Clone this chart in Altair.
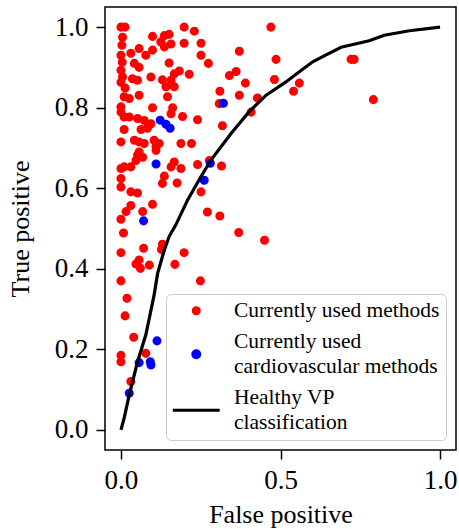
import altair as alt
import pandas as pd

# ---- data ----
red_x = [0.000, 0.013, 0.005, 0.198, 0.230, 0.099, 0.151, 0.136, 0.125, 0.157,
         0.198, 0.251, 0.057, 0.099, 0.078, 0.136, 0.251, 0.274, 0.151, 0.000,
         0.031, 0.042, 0.057, 0.000, 0.005, 0.094, 0.130, 0.167, 0.183, 0.214,
         0.036, 0.052, 0.000, 0.157, 0.003, 0.004, 0.141, 0.167, 0.146, 0.010,
         0.026, 0.057, 0.000, 0.000, 0.099, 0.162, 0.157, 0.193, 0.240, 0.010,
         0.026, 0.052, 0.073, 0.094, 0.083, 0.010, 0.063, 0.000, 0.042, 0.057,
         0.073, 0.104, 0.120, 0.110, 0.188, 0.221, 0.057, 0.013, 0.052, 0.068,
         0.047, 0.031, 0.010, 0.000, 0.110, 0.167, 0.188, 0.157, 0.240, 0.000,
         0.000, 0.136, 0.130, 0.176, 0.031, 0.052, 0.251, 0.099, 0.031, 0.016,
         0.000, 0.068, 0.271, 0.310, 0.277, 0.315, 0.369, 0.450, 0.008, 0.000,
         0.071, 0.130, 0.127, 0.198, 0.057, 0.047, 0.061, 0.089, 0.169, 0.000,
         0.249, 0.019, 0.013, 0.040, 0.000, 0.000, 0.078, 0.031, 0.470, 0.371,
         0.486, 0.340, 0.361, 0.390, 0.481, 0.310, 0.559, 0.541, 0.371, 0.428,
         0.408, 0.308, 0.318, 0.721, 0.731, 0.791]
red_y = [1.000, 1.000, 0.975, 1.000, 0.990, 0.977, 0.982, 0.979, 0.963, 0.958,
         0.960, 0.960, 0.947, 0.943, 0.930, 0.951, 0.930, 0.910, 0.911, 0.930,
         0.935, 0.910, 0.900, 0.893, 0.876, 0.876, 0.869, 0.884, 0.891, 0.883,
         0.872, 0.868, 0.863, 0.868, 0.955, 0.913, 0.852, 0.852, 0.827, 0.827,
         0.823, 0.831, 0.802, 0.789, 0.800, 0.800, 0.785, 0.778, 0.770, 0.777,
         0.777, 0.773, 0.768, 0.760, 0.749, 0.746, 0.746, 0.715, 0.719, 0.715,
         0.711, 0.719, 0.711, 0.703, 0.711, 0.711, 0.690, 0.849, 0.682, 0.677,
         0.669, 0.653, 0.653, 0.649, 0.694, 0.665, 0.649, 0.653, 0.659, 0.624,
         0.603, 0.630, 0.612, 0.613, 0.591, 0.588, 0.591, 0.560, 0.557, 0.542,
         0.523, 0.542, 0.541, 0.531, 0.669, 0.655, 0.490, 0.471, 0.489, 0.440,
         0.451, 0.461, 0.448, 0.440, 0.422, 0.412, 0.401, 0.409, 0.411, 0.370,
         0.370, 0.327, 0.283, 0.230, 0.185, 0.169, 0.190, 0.120, 1.000, 0.940,
         0.920, 0.880, 0.890, 0.861, 0.870, 0.841, 0.861, 0.841, 0.831, 0.824,
         0.789, 0.810, 0.755, 0.920, 0.920, 0.820]

blue_x = [0.321, 0.123, 0.141, 0.154, 0.110, 0.280, 0.261, 0.071, 0.113, 0.057,
          0.092, 0.094, 0.026]
blue_y = [0.811, 0.769, 0.759, 0.749, 0.660, 0.662, 0.620, 0.519, 0.221, 0.167,
          0.169, 0.161, 0.091]

line_x = [0.000, 0.010, 0.026, 0.052, 0.078, 0.104, 0.115, 0.136, 0.151, 0.172,
          0.209, 0.251, 0.282, 0.345, 0.402, 0.455, 0.517, 0.559, 0.601, 0.643,
          0.690, 0.778, 0.825, 0.904, 1.000]
line_y = [0.000, 0.029, 0.087, 0.169, 0.236, 0.335, 0.389, 0.447, 0.480, 0.509,
          0.571, 0.629, 0.670, 0.736, 0.790, 0.831, 0.864, 0.889, 0.914, 0.931,
          0.950, 0.966, 0.980, 0.991, 1.000]

L1 = "Currently used methods"
L2 = "Currently used|cardiovascular methods"
L3 = "Healthy VP|classification"
series_domain = [L1, L2, L3]
series_colors = ["#ff0000", "#0000ff", "#000000"]
x_ticks = [0.0, 0.5, 1.0]
y_ticks = [0.0, 0.2, 0.4, 0.6, 0.8, 1.0]

# legend glyphs (unit square paths); two-line entries are centred between lines
legend_shapes = [
    "circle",
    "M-1.128,3.54A1.128,1.128,0,1,1,1.128,3.54A1.128,1.128,0,1,1,-1.128,3.54Z",
    "M-6.63,3.54L6.63,3.54",
]

pts = pd.DataFrame({
    "x": red_x + blue_x,
    "y": red_y + blue_y,
    "series": [L1] * len(red_x) + [L2] * len(blue_x),
})
curve = pd.DataFrame({"x": line_x, "y": line_y, "series": [L3] * len(line_x)})

FONT = "Liberation Serif"

legend = alt.Legend(
    title=None, orient="bottom-right", offset=10,
    labelExpr="split(datum.label, '|')",
    labelFont=FONT, labelFontSize=21.5, labelColor="black",
    symbolSize=50, symbolOffset=13.5, labelOffset=27,
    padding=6, rowPadding=8,
    strokeColor="#cccccc", fillColor="white", cornerRadius=5,
    labelLimit=400,
)

xs = alt.Scale(domain=[-0.05, 1.05], nice=False, zero=False)
ys = alt.Scale(domain=[-0.05, 1.05], nice=False, zero=False)
x_enc = alt.X("x:Q", scale=xs, title="False positive",
              axis=alt.Axis(values=x_ticks, format=".1f"))
y_enc = alt.Y("y:Q", scale=ys, title="True positive",
              axis=alt.Axis(values=y_ticks, format=".1f"))

fill_enc = alt.Fill("series:N", scale=alt.Scale(domain=series_domain, range=series_colors), legend=legend)
stroke_enc = alt.Stroke("series:N", scale=alt.Scale(domain=series_domain, range=series_colors), legend=legend)
shape_enc = alt.Shape("series:N", scale=alt.Scale(domain=series_domain, range=legend_shapes), legend=legend)
sw_enc = alt.StrokeWidth("series:N", scale=alt.Scale(type="ordinal", domain=series_domain, range=[2, 2, 3.2]), legend=legend)

points = alt.Chart(pts).mark_point(filled=True, opacity=1, size=50, shape="circle").encode(
    x=x_enc, y=y_enc, fill=fill_enc, stroke=stroke_enc, strokeWidth=sw_enc,
)
# legend-only layer (draws nothing): carries the legend glyph shapes
legend_layer = alt.Chart(pts).transform_filter("false").mark_point(filled=True, opacity=1, size=50).encode(
    x=x_enc, y=y_enc, fill=fill_enc, stroke=stroke_enc, shape=shape_enc, strokeWidth=sw_enc,
)
line = alt.Chart(curve).mark_line().encode(
    x=x_enc, y=y_enc, stroke=stroke_enc, strokeWidth=sw_enc,
)

chart = alt.layer(points, line, legend_layer).properties(
    width=351, height=443,
    autosize=alt.AutoSizeParams(type="none"),
    padding={"left": 105, "top": 7, "right": 3, "bottom": 79},
    background="white",
).configure(
    style={"guide-label": {"lineHeight": 25}},
).configure_axis(
    labelFont=FONT, titleFont=FONT, labelFontSize=27, titleFontSize=26,
    titleFontWeight="normal", labelColor="black", titleColor="black",
    tickColor="black", tickSize=9, tickWidth=1.5, grid=False, domain=False,
    labelPadding=8, labelFlush=False,
).configure_axisY(titlePadding=21).configure_axisX(titlePadding=8).configure_view(
    stroke="black", strokeWidth=1.5,
)

chart.save("out.html", embed_options={"renderer": "svg", "actions": False})
